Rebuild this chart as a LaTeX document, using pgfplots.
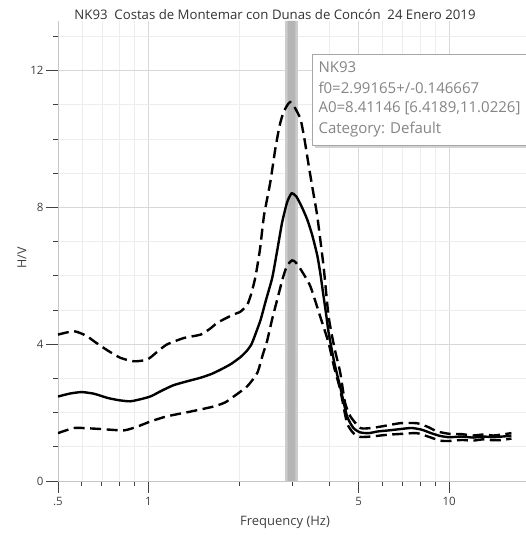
\documentclass[border=0pt]{standalone}
\usepackage{pgfplots}
\pgfplotsset{compat=1.18}
\usepackage{fontspec}
\setmainfont{Open Sans}
\definecolor{gridmin}{HTML}{EDEDED}
\definecolor{gridmaj}{HTML}{D8D8D8}
\definecolor{txt}{HTML}{404040}
\definecolor{boxtxt}{HTML}{858585}
\pgfplotstableread{
f y
0.50 2.47
0.55 2.56
0.60 2.60
0.66 2.55
0.73 2.43
0.80 2.36
0.87 2.33
0.95 2.40
1.02 2.48
1.10 2.63
1.21 2.80
1.35 2.92
1.49 3.02
1.62 3.13
1.74 3.26
1.88 3.42
2.02 3.62
2.12 3.80
2.20 4.00
2.28 4.35
2.36 4.72
2.46 5.30
2.58 5.95
2.68 6.75
2.78 7.55
2.89 8.15
2.99 8.41
3.10 8.32
3.22 8.05
3.37 7.65
3.50 7.20
3.64 6.60
3.73 6.05
3.82 5.40
3.90 4.85
3.97 4.35
4.15 3.45
4.34 2.75
4.57 1.90
4.80 1.55
5.06 1.42
5.4 1.40
5.8 1.45
6.3 1.48
6.9 1.52
7.5 1.55
8.1 1.50
8.7 1.40
9.3 1.32
10 1.28
11 1.30
12 1.27
13 1.30
14 1.28
15 1.30
16.1 1.32
}\meancurve
\pgfplotstableread{
f y
0.50 4.28
0.565 4.38
0.62 4.25
0.66 4.08
0.73 3.82
0.807 3.60
0.894 3.50
0.99 3.55
1.07 3.78
1.15 3.99
1.31 4.18
1.49 4.28
1.60 4.45
1.69 4.62
1.80 4.75
1.92 4.87
2.02 4.95
2.13 5.15
2.20 5.50
2.27 5.99
2.35 6.80
2.42 7.75
2.54 8.73
2.64 9.71
2.73 10.40
2.81 10.78
2.90 11.00
2.96 11.08
3.05 10.95
3.20 10.59
3.30 10.00
3.41 9.22
3.52 8.50
3.64 7.75
3.82 6.28
3.97 4.82
4.15 3.90
4.34 3.17
4.50 2.30
4.69 1.89
5.06 1.55
5.5 1.55
6.0 1.60
6.87 1.69
7.81 1.69
8.5 1.58
9.1 1.45
10 1.38
11 1.37
12 1.33
13 1.36
14 1.33
15 1.36
16.1 1.40
}\uppercurve
\pgfplotstableread{
f y
0.50 1.40
0.565 1.55
0.63 1.54
0.693 1.52
0.828 1.48
0.917 1.59
1.015 1.74
1.15 1.89
1.38 2.03
1.65 2.18
1.80 2.30
1.92 2.47
2.13 2.77
2.30 3.16
2.40 3.70
2.48 4.10
2.58 4.75
2.68 5.31
2.80 5.95
2.89 6.30
3.00 6.45
3.08 6.40
3.20 6.20
3.45 5.70
3.72 4.82
3.97 4.04
4.15 3.30
4.34 2.67
4.57 1.70
4.8 1.40
5.06 1.29
5.5 1.30
6.2 1.35
7.0 1.38
7.8 1.40
8.5 1.30
9.34 1.18
10 1.17
11 1.20
12 1.18
13 1.22
14 1.19
15 1.20
16.1 1.24
}\lowercurve
\begin{document}
\begin{tikzpicture}[x=1pt,y=1pt]
\begin{axis}[
  at={(58pt,57pt)}, anchor=south west,
  width=468pt, height=460pt, scale only axis,
  xmode=log, log basis x=10,
  xmin=0.5, xmax=18, ymin=0, ymax=13.45,
  axis x line*=bottom, axis y line*=left,
  axis line style={draw=gray!45, line width=0.8pt, -},
  xtick={0.5,1,5,10}, xticklabels={.5,1,5,10},
  minor xtick={0.6,0.7,0.8,0.9,2,3,4,6,7,8,9},
  ytick={0,4,8,12}, minor ytick={1,2,3,5,6,7,9,10,11,13},
  grid=both,
  major grid style={draw=gridmaj, line width=0.6pt},
  minor grid style={draw=gridmin, line width=0.6pt},
  tick align=outside,
  major tick length=12pt, minor tick length=5pt,
  every tick/.style={draw=txt, line width=0.9pt},
  tick label style={font=\fontsize{11.5}{13}\selectfont, text=txt},
  xticklabel style={yshift=-1pt},
  yticklabel style={xshift=1pt},
  log ticks with fixed point,
  /pgf/number format/assume math mode=true,
  clip=true,
]
\addplot[draw=none, fill=gray!40] coordinates {(2.845,0) (2.845,13.45) (3.139,13.45) (3.139,0)} \closedcycle;
\addplot[draw=none, fill=gray!58] coordinates {(2.90,0) (2.90,13.45) (3.08,13.45) (3.08,0)} \closedcycle;
\addplot[black, line width=2.4pt, smooth, tension=0.35, dash pattern=on 11pt off 5.5pt] table[x=f,y=y] {\uppercurve};
\addplot[black, line width=2.4pt, smooth, tension=0.35, dash pattern=on 11pt off 5.5pt] table[x=f,y=y] {\lowercurve};
\addplot[black, line width=2.4pt, smooth, tension=0.35] table[x=f,y=y] {\meancurve};
\end{axis}
% title and labels
\node[font=\fontsize{13.2}{15}\selectfont, text=black!80] at (275pt,523pt) {NK93\ \ Costas de Montemar con Dunas de Concón\ \ 24 Enero 2019};
\node[font=\fontsize{13}{15}\selectfont, text=txt] at (285pt,16pt) {Frequency (Hz)};
\node[font=\fontsize{12.5}{15}\selectfont, text=txt, rotate=90] at (22pt,280pt) {H/V};
% info box
\fill[gray!35] (315pt,390pt) rectangle (545pt,481pt);
\filldraw[fill=white, draw=gray!70, line width=0.8pt] (312pt,393pt) rectangle (542pt,484pt);
\node[anchor=west, font=\fontsize{15}{17}\selectfont, text=boxtxt] at (315pt,471pt) {NK93};
\node[anchor=west, font=\fontsize{15}{17}\selectfont, text=boxtxt] at (315pt,450pt) {f0=2.99165+/-0.146667};
\node[anchor=west, font=\fontsize{15}{17}\selectfont, text=boxtxt] at (315pt,430pt) {A0=8.41146 [6.4189,11.0226]};
\node[anchor=west, font=\fontsize{15}{17}\selectfont, text=boxtxt] at (315pt,408pt) {Category: Default};
\pgfresetboundingbox
\useasboundingbox (0,0) rectangle (526pt,538pt);
\end{tikzpicture}
\end{document}
